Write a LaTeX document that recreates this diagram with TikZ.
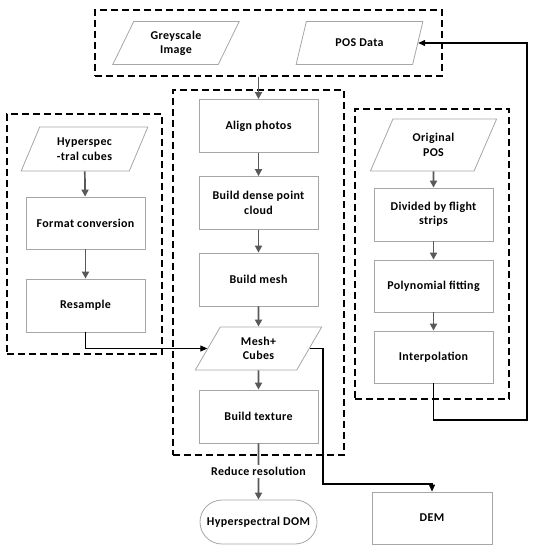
\documentclass[tikz,border=0pt]{standalone}
\usepackage{fontspec}
\setmainfont{Carlito}[LetterSpace=3]
\usetikzlibrary{arrows.meta,shapes.geometric,shapes.misc}
\definecolor{boxgray}{HTML}{A6A6A6}
\definecolor{arrgray}{HTML}{595959}
\tikzset{
  lbl/.style={font=\bfseries\fontsize{12}{14.4}\selectfont,text=black},
  base/.style={lbl,draw=boxgray,line width=0.8bp,align=center,inner sep=1bp},
  proc/.style={base,rectangle,minimum width=119bp,minimum height=53bp},
  para/.style={base,trapezium,trapezium left angle=64,trapezium right angle=116,trapezium stretches=true,minimum width=127bp,minimum height=43bp},
  term/.style={base,rounded rectangle,minimum width=119bp,minimum height=44bp},
  group/.style={draw=black,line width=1.3bp,dash pattern=on 7bp off 4bp,rectangle,inner sep=0pt},
  garrow/.style={draw=arrgray,line width=1.7bp,-{Triangle[length=7bp,width=7bp]}},
  barrow/.style={draw=black,line width=1.1bp,-{Triangle[length=7bp,width=6bp]}}
}
\begin{document}
\begin{tikzpicture}[x=1bp,y=-1bp]
\useasboundingbox (0,0) rectangle (534,550);
% group boxes
\node[group,minimum width=347bp,minimum height=66bp] (topbox) at (268.5,43) {};
\node[group,minimum width=155bp,minimum height=240bp] (leftbox) at (84.5,234) {};
\node[group,minimum width=171bp,minimum height=365bp] (midbox) at (258.5,272.5) {};
\node[group,minimum width=154bp,minimum height=290bp] (rightbox) at (432,254) {};
% top
\node[para] (gi) at (176,43) {Greyscale\\Image};
\node[para] (pos) at (359.5,43) {POS Data};
% middle
\node[proc] (align) at (258.5,126) {Align photos};
\node[proc] (dense) at (258.5,203) {Build dense point\\cloud};
\node[proc] (mesh) at (258.5,279.5) {Build mesh};
\node[para] (mc) at (258.5,348.5) {Mesh+\\Cubes};
\node[proc] (tex) at (258.5,416.5) {Build texture};
\node[term] (dom) at (258.5,522) {Hyperspectral DOM};
\node[proc,minimum width=120bp,minimum height=52bp] (dem) at (432,518) {DEM};
% left
\node[para,minimum height=44bp] (hyp) at (84.5,149) {Hyperspec\\-tral cubes};
\node[proc,minimum height=52bp] (fmt) at (85.5,223) {Format conversion};
\node[proc] (res) at (85.5,305.5) {Resample};
% right
\node[para,minimum height=52bp] (opos) at (433.5,145) {Original\\POS};
\node[proc] (div) at (433.5,214.5) {Divided by flight\\strips};
\node[proc,minimum height=52bp] (poly) at (433.5,286) {Polynomial fitting};
\node[proc,minimum height=52bp] (interp) at (433.5,357) {Interpolation};
% gray arrows
\draw[garrow] (align.north |- topbox.south) -- (align.north);
\draw[garrow] (align) -- (dense);
\draw[garrow] (dense) -- (mesh);
\draw[garrow] (mesh) -- (mc);
\draw[garrow] (mc) -- (tex);
\draw[garrow] (tex) -- node[lbl,fill=white,inner sep=2bp,pos=0.5] (rr) {Reduce resolution} (dom);
\draw[garrow] (hyp) -- (fmt);
\draw[garrow] (fmt) -- (res);
\draw[garrow] (opos) -- (div);
\draw[garrow] (div) -- (poly);
\draw[garrow] (poly) -- (interp);
% black connectors
\coordinate (c1) at (323,484);
\coordinate (r1) at (527,420);
\draw[barrow] (res.south) |- (mc.west);
\draw[barrow] (mc.east) -| (c1) -| (dem.north);
\draw[barrow] (interp.south) |- (r1) |- (pos.east);
\end{tikzpicture}
\end{document}
